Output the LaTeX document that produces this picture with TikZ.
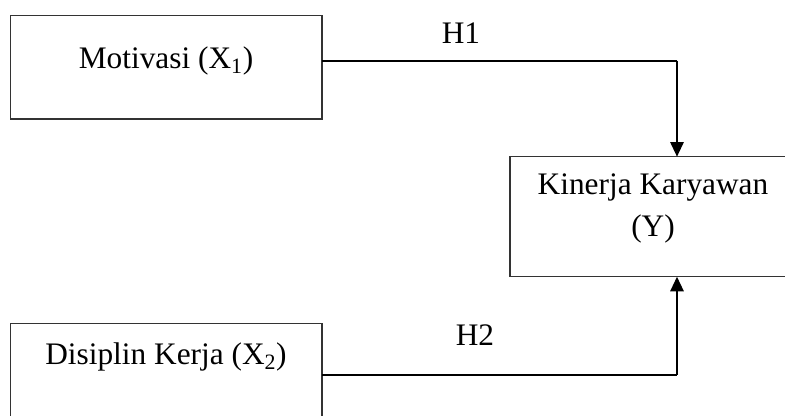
\documentclass[tikz,border=0pt]{standalone}
\usepackage{fontspec}
\setmainfont{Liberation Serif}
\usetikzlibrary{arrows.meta}
\begin{document}
\begin{tikzpicture}[x=0.75pt,y=-0.75pt,
  box/.style={draw=black!80, line width=0.9pt},
  lbl/.style={font=\fontsize{23.5}{32}\selectfont, align=center, inner sep=0pt},
  conn/.style={line width=1.5pt, line join=miter},
  tip/.style={-{Triangle[length=11pt,width=10pt]}}]
\useasboundingbox (0,0) rectangle (785,415);
\draw[box] (10.7,15.7) rectangle (322,119);
\draw[box] (10.7,323.3) rectangle (322,430);
\draw[box] (510,156.7) rectangle (800,276.7);
\node[lbl] (m) at (166,61) {Motivasi (X\textsubscript{1})};
\node[lbl] (d) at (166,357) {Disiplin Kerja (X\textsubscript{2})};
\node[lbl] (k) at (653,208.5) {Kinerja Karyawan\\(Y)};
\coordinate (a1) at (322,60.5);
\coordinate (c1) at (677,60.5);
\coordinate (e1) at (677,156.7);
\coordinate (a2) at (322,375);
\coordinate (c2) at (677,375);
\coordinate (e2) at (677,276.7);
\draw[conn] (a1) -- (c1);
\draw[conn, tip] (c1) -- (e1);
\draw[conn] (a2) -- (c2);
\draw[conn, tip] (c2) -- (e2);
\node[lbl] (h1) at (461,33) {H1};
\node[lbl] (h2) at (475,335) {H2};
\end{tikzpicture}
\end{document}
